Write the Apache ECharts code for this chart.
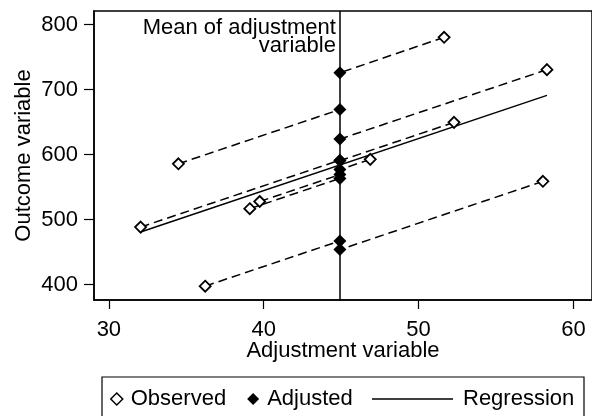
<!DOCTYPE html>
<html>
<head>
<meta charset="utf-8">
<script src="https://cdn.jsdelivr.net/npm/echarts@6/dist/echarts.min.js"></script>
<style>
html,body{margin:0;padding:0;background:#fff;}
#c{width:592px;height:416px;}
</style>
</head>
<body>
<div id="c"></div>
<script>
// ---- data ----
const meanX = 44.92;                       // mean of adjustment variable
const obsX = [34.49, 32.05, 39.10, 39.74, 36.22, 46.88, 51.65, 58.29, 52.29, 58.03];
const obsY = [586.0, 488.6, 516.9, 528.0, 397.8, 592.8, 780.6, 730.8, 649.7, 559.0];
const adjY = [669.5, 591.6, 563.5, 569.4, 467.4, 577.1, 726.0, 624.0, 590.7, 454.0];
const regX = [32.05, 58.29];
const regY = [481.0, 691.2];
const xTicks = [30, 40, 50, 60];
const yTicks = [400, 500, 600, 700, 800];
const xTitle = 'Adjustment variable';
const yTitle = 'Outcome variable';
const meanLabel = 'Mean of adjustment\nvariable';

const FONT = '"Liberation Sans", Arial, sans-serif';
const FS = 22;

const chart = echarts.init(document.getElementById('c'), null, {renderer: 'canvas'});

const linkSeries = obsX.map((x, i) => ({
  type: 'line',
  data: [[x, obsY[i]], [meanX, adjY[i]]],
  symbol: 'none',
  silent: true,
  z: 2,
  lineStyle: {color: '#000', width: 1.5, type: [9, 5]}
}));

const option = {
  animation: false,
  backgroundColor: '#fff',
  textStyle: {fontFamily: FONT, color: '#000'},
  grid: {left: 94, top: 11, right: -4, bottom: 116, show: true, borderColor: '#000', borderWidth: 1.5, containLabel: false},
  xAxis: {
    type: 'value', min: 29.04, max: 61.2,
    name: xTitle, nameLocation: 'middle', nameGap: 40, nameMoveOverlap: false,
    nameTextStyle: {fontSize: FS, color: '#000', fontFamily: FONT},
    axisLine: {show: true, lineStyle: {color: '#000', width: 1.5}},
    axisTick: {show: true, length: 9, lineStyle: {color: '#000', width: 1.2}, customValues: xTicks},
    axisLabel: {fontSize: FS, color: '#000', fontFamily: FONT, margin: 19, customValues: xTicks},
    splitLine: {show: false}
  },
  yAxis: {
    type: 'value', min: 376.5, max: 821,
    name: yTitle, nameLocation: 'middle', nameGap: 59, nameRotate: 90, nameMoveOverlap: false,
    nameTextStyle: {fontSize: FS, color: '#000', fontFamily: FONT},
    axisLine: {show: true, lineStyle: {color: '#000', width: 1.5}},
    axisTick: {show: true, length: 10, lineStyle: {color: '#000', width: 1.2}, customValues: yTicks},
    axisLabel: {fontSize: FS, color: '#000', fontFamily: FONT, margin: 16, customValues: yTicks},
    splitLine: {show: false}
  },
  legend: [
    {
      data: [
        {name: 'Observed', icon: 'diamond', itemStyle: {color: '#fff', borderColor: '#000', borderWidth: 1.5}},
        {name: 'Adjusted', icon: 'diamond', itemStyle: {color: '#000', borderWidth: 0}}
      ],
      left: 110, top: 388, padding: 0, itemGap: 21,
      itemWidth: 12, itemHeight: 12,
      textStyle: {fontSize: FS, color: '#000', fontFamily: FONT, padding: [0, 0, 0, 3]},
      selectedMode: false
    },
    {
      data: [{name: 'Regression', icon: 'rect', itemStyle: {color: '#000', borderWidth: 0}}],
      left: 372, top: 388, padding: 0,
      itemWidth: 81, itemHeight: 1.5,
      textStyle: {fontSize: FS, color: '#000', fontFamily: FONT, padding: [0, 0, 0, 5]},
      selectedMode: false
    }
  ],
  series: [
    ...linkSeries,
    {
      name: 'Regression', type: 'line',
      data: regX.map((x, i) => [x, regY[i]]),
      symbol: 'none', showSymbol: false, z: 3,
      lineStyle: {color: '#000', width: 1.5, type: 'solid'},
      itemStyle: {color: '#000'},
      markLine: {
        silent: true, symbol: ['none', 'none'],
        label: {show: false},
        lineStyle: {color: '#000', width: 1.5, type: 'solid'},
        data: [{xAxis: meanX}]
      }
    },
    {
      name: 'Adjusted', type: 'scatter', z: 4,
      data: adjY.map(y => [meanX, y]),
      symbol: 'diamond', symbolSize: 13,
      itemStyle: {color: '#000', opacity: 1}
    },
    {
      name: 'Observed', type: 'scatter', z: 5,
      data: obsX.map((x, i) => [x, obsY[i]]),
      symbol: 'diamond', symbolSize: 11,
      itemStyle: {color: '#fff', borderColor: '#000', borderWidth: 1.8, opacity: 1}
    }
  ]
};

chart.setOption(option);

const px = chart.convertToPixel({xAxisIndex: 0, yAxisIndex: 0}, [meanX, 800]);
chart.setOption({
  graphic: [
    {
      type: 'text', x: px[0] - 4, y: 19, silent: true,
      style: {text: meanLabel, font: FS + 'px ' + FONT, fill: '#000', align: 'right', verticalAlign: 'top', lineHeight: 18}
    },
    {
      type: 'rect', silent: true,
      shape: {x: 102, y: 377, width: 482, height: 60},
      style: {fill: 'none', stroke: '#000', lineWidth: 1.2}
    }
  ]
});
</script>
</body>
</html>
